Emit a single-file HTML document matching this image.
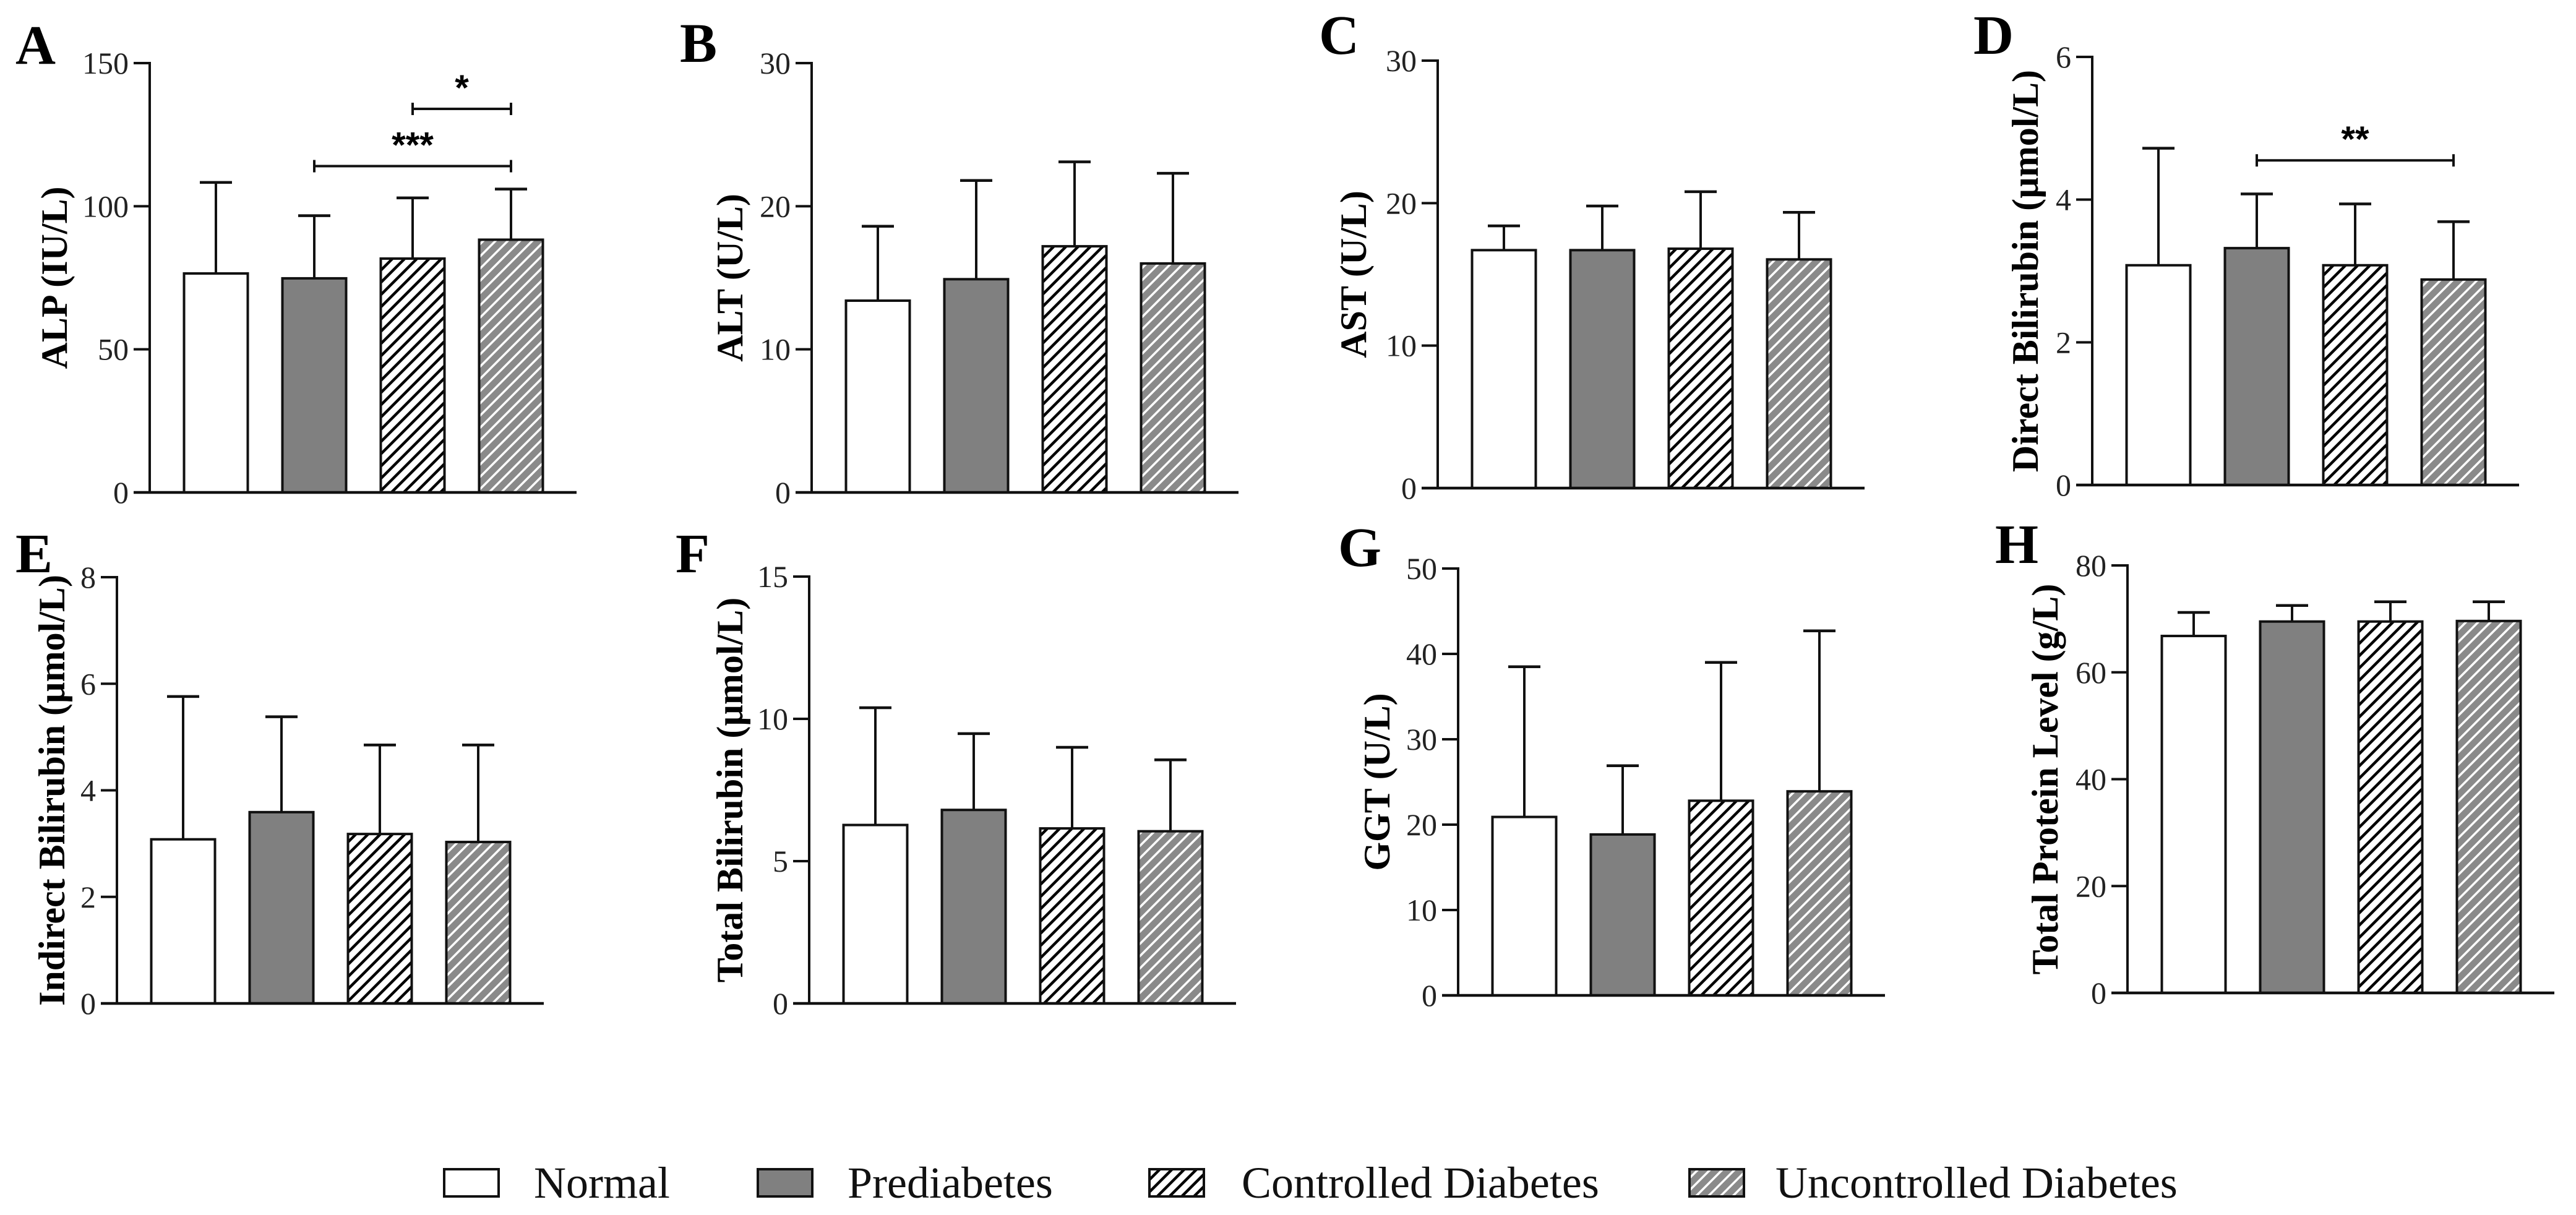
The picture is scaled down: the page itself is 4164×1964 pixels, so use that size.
<!DOCTYPE html>
<html><head><meta charset="utf-8"><style>
html,body{margin:0;padding:0;background:#fff;}
svg{display:block;font-family:"Liberation Serif",serif;}
</style></head><body>
<svg id="fig" width="4164" height="1964" viewBox="0 0 4164 1964" xmlns="http://www.w3.org/2000/svg">
<defs>
<pattern id="hatchBW" patternUnits="userSpaceOnUse" width="14" height="14" patternTransform="rotate(45)">
<rect width="14" height="14" fill="#fff"/><rect x="0" y="0" width="4.5" height="14" fill="#000"/></pattern>
<pattern id="hatchGW" patternUnits="userSpaceOnUse" width="14" height="14" patternTransform="rotate(45)">
<rect width="14" height="14" fill="#8a8a8a"/><rect x="0" y="0" width="3.5" height="14" fill="#fff"/></pattern>
</defs>
<g id="panels"></g>
<g id="legend"></g>
</svg>
<script>
const groups = ["Normal","Prediabetes","Controlled Diabetes","Uncontrolled Diabetes"];
const fills = ["#fff","#808080","url(#hatchBW)","url(#hatchGW)"];
const panelLetters = ["A","B","C","D","E","F","G","H"];
const panelTitles = ["ALP (IU/L)","ALT (U/L)","AST (U/L)","Direct Bilirubin (\u00b5mol/L)","Indirect Bilirubin (\u00b5mol/L)","Total Bilirubin (\u00b5mol/L)","GGT (U/L)","Total Protein Level (g/L)"];
const yMax = [150,30,30,6,8,15,50,80];
const yStep = [50,10,10,2,2,5,10,20];
const meansA = [76.5,74.8,81.7,88.3];
const errA = [108.3,96.7,102.9,106];
const meansB = [13.4,14.9,17.2,16.0];
const errB = [18.6,21.8,23.1,22.3];
const meansC = [16.7,16.7,16.8,16.05];
const errC = [18.4,19.8,20.8,19.35];
const meansD = [3.08,3.32,3.08,2.88];
const errD = [4.72,4.08,3.94,3.69];
const meansE = [3.08,3.59,3.18,3.03];
const errE = [5.76,5.38,4.85,4.85];
const meansF = [6.27,6.80,6.15,6.05];
const errF = [10.39,9.48,9.0,8.56];
const meansG = [20.9,18.85,22.8,23.9];
const errG = [38.5,26.9,39.0,42.7];
const meansH = [66.8,69.5,69.5,69.6];
const errH = [71.2,72.5,73.2,73.2];
const allMeans = [meansA,meansB,meansC,meansD,meansE,meansF,meansG,meansH];
const allErr = [errA,errB,errC,errD,errE,errF,errG,errH];
const sigPanel = [0,0,3];
const sigFrom = [2,1,1];
const sigTo = [3,3,3];
const sigY = [134,114,4.55];
const sigLabel = ["*","***","**"];

const layout = [
 {ax:242,top:102,zero:796,lx:25,ly:103,tx:88},
 {ax:1312,top:102,zero:796,lx:1099,ly:100,tx:1180},
 {ax:2324,top:98,zero:789,lx:2132,ly:87,tx:2188},
 {ax:3382,top:92,zero:784,lx:3190,ly:87,tx:3274},
 {ax:189,top:933,zero:1622,lx:25,ly:925,tx:84},
 {ax:1308,top:932,zero:1622,lx:1092,ly:925,tx:1180},
 {ax:2357,top:919,zero:1609,lx:2163,ly:915,tx:2226},
 {ax:3439,top:914,zero:1605,lx:3225,ly:910,tx:3306}
];
const NS="http://www.w3.org/2000/svg";
function mk(tag,attrs,parent){const e=document.createElementNS(NS,tag);for(const k in attrs)e.setAttribute(k,attrs[k]);parent.appendChild(e);return e;}
const root=document.getElementById('panels');
const barW=103, pitch=159, off0=107, cap=26;
for(let p=0;p<8;p++){
  const L=layout[p];
  const g=mk('g',{},root);
  
  
  const ys=v=>L.zero-(v/yMax[p])*(L.zero-L.top);
  const xs=i=>L.ax+off0+i*pitch;
  const lab=mk('text',{x:L.lx,y:L.ly,'font-size':90,'font-weight':'bold'},g);lab.textContent=panelLetters[p];
  
  
  const cy=(L.top+L.zero)/2;
  const tt=mk('text',{x:L.tx,y:cy,'font-size':60,'font-weight':'bold','text-anchor':'middle','dominant-baseline':'central',transform:`rotate(-90 ${L.tx} ${cy})`},g);
  tt.textContent=panelTitles[p];
  
  
  for(let i=0;i<4;i++){
    const m=allMeans[p][i], e=allErr[p][i], cx=xs(i);
    const ln=mk('line',{x1:cx,x2:cx,y1:ys(m),y2:ys(e),stroke:'#111','stroke-width':4},g);
    
    
    const cp=mk('line',{x1:cx-cap,x2:cx+cap,y1:ys(e),y2:ys(e),stroke:'#111','stroke-width':4.5},g);
    
    
    const r=mk('rect',{x:cx-barW/2,y:ys(m),width:barW,height:ys(0)-ys(m),fill:fills[i],stroke:'#111','stroke-width':4},g);
    
    
  }
  const ya=mk('line',{x1:L.ax,x2:L.ax,y1:L.top-2,y2:L.zero,stroke:'#111','stroke-width':4},g);
  
  
  const xa=mk('line',{x1:L.ax-26,x2:L.ax+690,y1:L.zero,y2:L.zero,stroke:'#111','stroke-width':4.5},g);
  
  
  for(let v=0;v<=yMax[p]+1e-9;v+=yStep[p]){
    const y=ys(v);
    const tk=mk('line',{x1:L.ax-26,x2:L.ax,y1:y,y2:y,stroke:'#111','stroke-width':4},g);
    
    
    const tl=mk('text',{x:L.ax-34,y:y,'font-size':50,'text-anchor':'end','dominant-baseline':'central',fill:'#222'},g);
    tl.textContent=String(Math.round(v*100)/100);
    
    
  }
  for(let s=0;s<sigPanel.length;s++){
    if(sigPanel[s]!==p) continue;
    const y=ys(sigY[s]), x1=xs(sigFrom[s]), x2=xs(sigTo[s]);
    const sg=mk('g',{},g);
    
    
    mk('line',{x1:x1,x2:x2,y1:y,y2:y,stroke:'#111','stroke-width':4},sg);
    mk('line',{x1:x1,x2:x1,y1:y-10,y2:y+10,stroke:'#111','stroke-width':4},sg);
    mk('line',{x1:x2,x2:x2,y1:y-10,y2:y+10,stroke:'#111','stroke-width':4},sg);
    const st=mk('text',{x:(x1+x2)/2,y:y-14,'font-size':58,'font-weight':'bold','text-anchor':'middle','font-family':'Liberation Sans, sans-serif'},sg);
    st.textContent=sigLabel[s];
  }
}
const leg=document.getElementById('legend');
const legBoxX=[718,1225,1858,2731];
const legTextX=[863,1370,2007,2870];
for(let i=0;i<4;i++){
  const r=mk('rect',{x:legBoxX[i],y:1890,width:88,height:44,fill:fills[i],stroke:'#111','stroke-width':4},leg);
  
  
  const t=mk('text',{x:legTextX[i],y:1936,'font-size':72,fill:'#111'},leg);
  t.textContent=groups[i];
  
  
}
</script>
</body></html>
